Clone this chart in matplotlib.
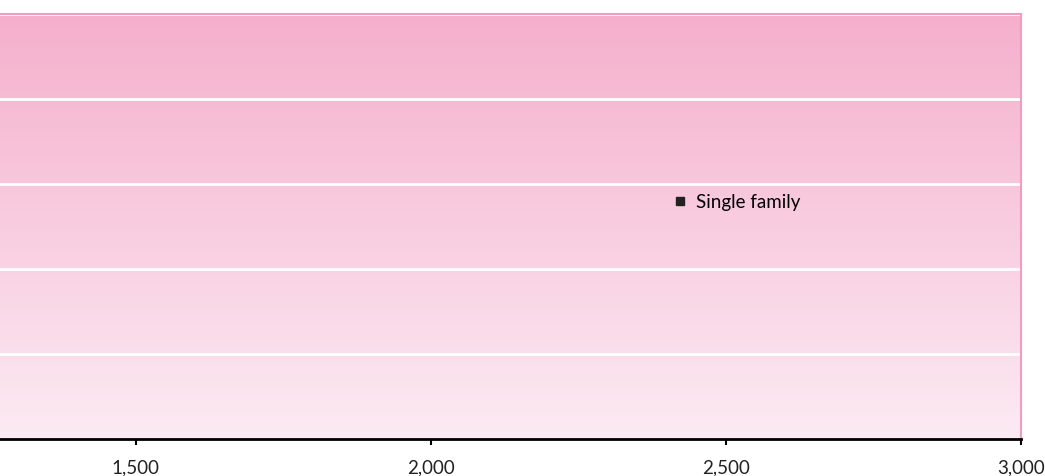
import numpy as np
import matplotlib
matplotlib.use("Agg")
import matplotlib.pyplot as plt
from matplotlib.lines import Line2D
from matplotlib.colors import LinearSegmentedColormap

plt.rcParams['font.family'] = ['Lato', 'DejaVu Sans']

# data
x_ticks = [1500, 2000, 2500, 3000]
x_tick_labels = ["1,500", "2,000", "2,500", "3,000"]
x_range = [1270, 3000]
y_grid = [0, 1, 2, 3, 4, 5]
series_name = "Single family"

fig = plt.figure(figsize=(10.45, 4.76), dpi=100)
ax = fig.add_axes([0, 37 / 476, 1021 / 1045, 425 / 476])

# pink gradient fill, dark on top
cmap = LinearSegmentedColormap.from_list("pinkfade", ["#fcebf3", "#f5afcc"])
grad = np.linspace(0, 1, 256).reshape(-1, 1)
ax.imshow(grad, extent=[x_range[0], x_range[1], y_grid[0], y_grid[-1]],
          origin="lower", aspect="auto", cmap=cmap, zorder=0)

ax.set_xlim(x_range)
ax.set_ylim(y_grid[0], y_grid[-1])
for g in y_grid[1:]:
    ax.axhline(g, color="white", lw=2, zorder=1)

ax.set_xticks(x_ticks)
ax.set_xticklabels(x_tick_labels, fontsize=13.5, color="#222222")
ax.set_yticks([])
ax.tick_params(axis="x", length=4, width=1.5, color="black", pad=11)

ax.spines["left"].set_visible(False)
ax.spines["bottom"].set_color("black")
ax.spines["bottom"].set_linewidth(2)
ax.spines["top"].set_color("#f29cc0")
ax.spines["top"].set_linewidth(1.5)
ax.spines["right"].set_color("#f29cc0")
ax.spines["right"].set_linewidth(1.5)

handle = Line2D([], [], marker="s", ls="none", color="#222222", markersize=6)
ax.legend([handle], [series_name], loc="center left", bbox_to_anchor=(0.640, 0.557),
          frameon=False, fontsize=13.5, handletextpad=0.35, handlelength=1)

fig.savefig("out.png", dpi=100)
